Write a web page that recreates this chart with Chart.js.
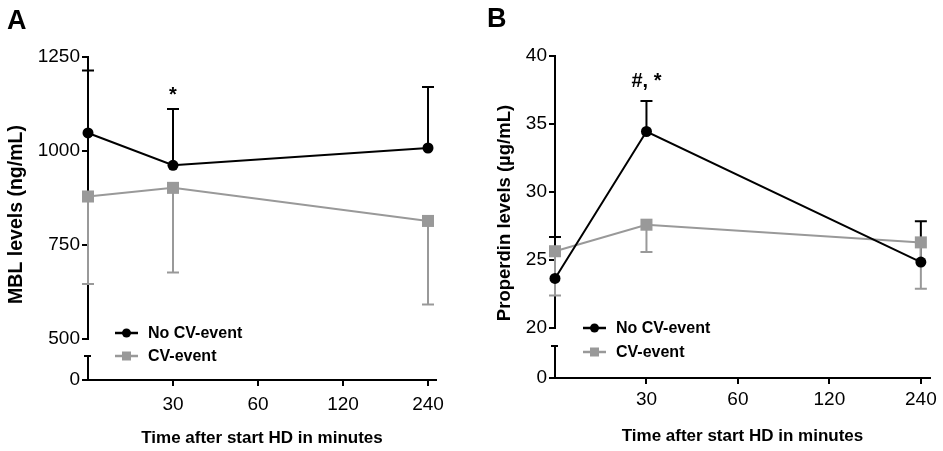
<!DOCTYPE html>
<html>
<head>
<meta charset="utf-8">
<script src="https://cdn.jsdelivr.net/npm/chart.js@4.4.1/dist/chart.umd.min.js"></script>
<style>
  html, body { margin: 0; padding: 0; background: #fff; }
  #wrap { position: relative; width: 943px; height: 451px; }
  canvas { position: absolute; top: 0; }
  #chartA { left: 0; }
  #chartB { left: 470px; }
</style>
</head>
<body>
<div id="wrap">
  <canvas id="chartA" width="470" height="451"></canvas>
  <canvas id="chartB" width="473" height="451"></canvas>
</div>
<script>
// x categories (minutes after start of HD) and the times that were sampled
const timeCategories = ['0', '30', '60', '120', '240'];
const sampleTimes = ['0', '30', '240'];
const seriesLabels = ['No CV-event', 'CV-event'];

// Panel A - MBL levels (ng/mL), mean and error bar length
const mblNoCv = [1048, 962, 1008];
const mblNoCvErr = [166, 150, 162];
const mblCv = [879, 902, 814];
const mblCvErr = [233, 225, 222];
const mblMarks = ['', '*', ''];

// Panel B - Properdin levels (ug/mL)
const propNoCv = [23.65, 34.45, 24.85];
const propNoCvErr = [3.05, 2.25, 3.0];
const propCv = [25.65, 27.6, 26.3];
const propCvErr = [3.25, 2.0, 3.4];
const propMarks = ['', '#, *', ''];

const BLACK = '#000000';
const GREY = '#999999';
const FONT = '"Liberation Sans", Arial, Helvetica, sans-serif';

Chart.defaults.font.family = FONT;
Chart.defaults.color = BLACK;

function toPoints(values) {
  return values.map((v, i) => ({ x: timeCategories.indexOf(sampleTimes[i]), y: v }));
}

// error bars, broken y axis, legend, titles and the significance marks
const panelPlugin = {
  id: 'panel',
  beforeDatasetsDraw(chart) {
    const ctx = chart.ctx;
    const yScale = chart.scales.y;
    chart.data.datasets.forEach((ds, di) => {
      const meta = chart.getDatasetMeta(di);
      ctx.save();
      ctx.strokeStyle = ds.borderColor;
      ctx.lineWidth = 2;
      meta.data.forEach((pt, i) => {
        const end = yScale.getPixelForValue(ds.data[i].y + ds.errDir * ds.errors[i]);
        ctx.beginPath();
        ctx.moveTo(pt.x, pt.y);
        ctx.lineTo(pt.x, end);
        ctx.moveTo(pt.x - 6, end);
        ctx.lineTo(pt.x + 6, end);
        ctx.stroke();
      });
      ctx.restore();
    });
  },
  afterDraw(chart, args, opts) {
    const ctx = chart.ctx;
    const area = chart.chartArea;
    const y = chart.scales.y;
    const y0 = chart.scales.y0;
    ctx.save();

    // lower piece of the broken y axis
    const ax = Math.round(y0.right);
    const breakTop = y.bottom + opts.breakGap;
    ctx.strokeStyle = BLACK;
    ctx.lineWidth = 2;
    ctx.beginPath();
    ctx.moveTo(ax, y0.bottom);
    ctx.lineTo(ax, breakTop);
    ctx.moveTo(ax - 4, breakTop);
    ctx.lineTo(ax + 3, breakTop);
    ctx.stroke();

    // legend inside the plot
    chart.data.datasets.forEach((ds, i) => {
      const ly = area.bottom - opts.legendRows[i];
      const lx = area.left + opts.legendX;
      ctx.strokeStyle = ds.borderColor;
      ctx.fillStyle = ds.borderColor;
      ctx.lineWidth = 2.5;
      ctx.beginPath();
      ctx.moveTo(lx, ly);
      ctx.lineTo(lx + 23, ly);
      ctx.stroke();
      if (ds.pointStyle === 'circle') {
        ctx.beginPath();
        ctx.arc(lx + 11.5, ly, 4.5, 0, Math.PI * 2);
        ctx.fill();
      } else {
        ctx.fillRect(lx + 7, ly - 4.5, 9, 9);
      }
      ctx.fillStyle = BLACK;
      ctx.font = 'bold 16px ' + FONT;
      ctx.textAlign = 'left';
      ctx.textBaseline = 'middle';
      ctx.fillText(ds.label, lx + 33, ly + 1);
    });

    // significance marks above the error bars
    const first = chart.data.datasets[0];
    const firstMeta = chart.getDatasetMeta(0);
    ctx.font = 'bold 20px ' + FONT;
    ctx.textAlign = 'center';
    ctx.textBaseline = 'alphabetic';
    opts.marks.forEach((m, i) => {
      if (!m) return;
      const top = y.getPixelForValue(first.data[i].y + first.errDir * first.errors[i]);
      ctx.fillText(m, firstMeta.data[i].x, top - opts.markGap);
    });

    // axis titles
    ctx.font = 'bold 17px ' + FONT;
    ctx.textBaseline = 'middle';
    ctx.fillText('Time after start HD in minutes', (area.left + area.right) / 2, area.bottom + 58);
    ctx.save();
    ctx.translate(opts.yTitleX, (area.top + area.bottom) / 2 - 4);
    ctx.rotate(-Math.PI / 2);
    ctx.font = 'bold ' + opts.yTitleSize + 'px ' + FONT;
    ctx.fillText(opts.yTitle, 0, 0);
    ctx.restore();

    // panel letter
    ctx.font = 'bold 27px ' + FONT;
    ctx.textAlign = 'left';
    ctx.fillText(opts.letter, opts.letterX, opts.letterY);
    ctx.restore();
  }
};

function buildPanel(canvasId, p) {
  const tickFont = { size: 19 };
  const tickGrid = { drawOnChartArea: false, color: BLACK, lineWidth: 2, tickLength: 6 };
  const plain = v => String(v);
  return new Chart(document.getElementById(canvasId), {
    type: 'line',
    data: {
      datasets: [
        {
          label: seriesLabels[0], data: toPoints(p.noCv), errors: p.noCvErr, errDir: 1,
          xAxisID: 'x', yAxisID: 'y',
          borderColor: BLACK, backgroundColor: BLACK, borderWidth: 2,
          pointStyle: 'circle', pointRadius: 5.5, pointBorderWidth: 0, clip: false
        },
        {
          label: seriesLabels[1], data: toPoints(p.cv), errors: p.cvErr, errDir: -1,
          xAxisID: 'x', yAxisID: 'y',
          borderColor: GREY, backgroundColor: GREY, borderWidth: 2,
          pointStyle: 'rect', pointRadius: 8.5, pointBorderWidth: 0, clip: false
        }
      ]
    },
    options: {
      responsive: false,
      animation: false,
      events: [],
      layout: { padding: p.padding },
      plugins: {
        legend: { display: false },
        tooltip: { enabled: false },
        panel: p
      },
      scales: {
        x: {
          type: 'linear', min: 0, max: p.xMax,
          afterBuildTicks: s => { s.ticks = [1, 2, 3, 4].map(v => ({ value: v })); },
          ticks: { callback: v => timeCategories[v], font: tickFont, color: BLACK, padding: p.xTickPad, maxRotation: 0 },
          grid: tickGrid,
          border: { color: BLACK, width: 2 },
          afterFit: s => { s.height = p.xHeight; }
        },
        // left boxes are stacked in reverse order, so the low piece comes first
        y0: {
          type: 'linear', position: 'left', stack: 'v', stackWeight: p.lowWeight,
          min: 0, max: 1,
          afterBuildTicks: s => { s.ticks = [{ value: 0 }]; },
          ticks: { callback: plain, font: tickFont, color: BLACK, padding: 2 },
          grid: tickGrid,
          border: { display: false },
          afterFit: s => { s.width = p.yWidth; }
        },
        y: {
          type: 'linear', position: 'left', stack: 'v', stackWeight: p.mainWeight,
          min: p.yMin, max: p.yMax,
          ticks: { stepSize: p.step, callback: plain, font: tickFont, color: BLACK, padding: 2 },
          grid: tickGrid,
          border: { color: BLACK, width: 2 },
          afterFit: s => { s.width = p.yWidth; }
        }
      }
    },
    plugins: [panelPlugin]
  });
}

buildPanel('chartA', {
  noCv: mblNoCv, noCvErr: mblNoCvErr, cv: mblCv, cvErr: mblCvErr, marks: mblMarks,
  yMin: 500, yMax: 1250, step: 250,
  mainWeight: 282, lowWeight: 41, breakGap: 17,
  padding: { top: 57, right: 34, bottom: 0, left: 0 },
  yWidth: 88, xHeight: 71, xMax: 4.094, xTickPad: 7,
  legendX: 27, legendRows: [47, 24], markGap: 8,
  yTitle: 'MBL levels (ng/mL)', yTitleX: 17, yTitleSize: 19.5,
  letter: 'A', letterX: 7, letterY: 22
});

buildPanel('chartB', {
  noCv: propNoCv, noCvErr: propNoCvErr, cv: propCv, cvErr: propCvErr, marks: propMarks,
  yMin: 20, yMax: 40, step: 5,
  mainWeight: 272.6, lowWeight: 50, breakGap: 18,
  padding: { top: 56, right: 13, bottom: 0, left: 0 },
  yWidth: 85, xHeight: 73, xMax: 4.1, xTickPad: 4,
  legendX: 28, legendRows: [50, 26], markGap: 14,
  yTitle: 'Properdin levels (\u00b5g/mL)', yTitleX: 35, yTitleSize: 18.5,
  letter: 'B', letterX: 17, letterY: 20
});
</script>
</body>
</html>
